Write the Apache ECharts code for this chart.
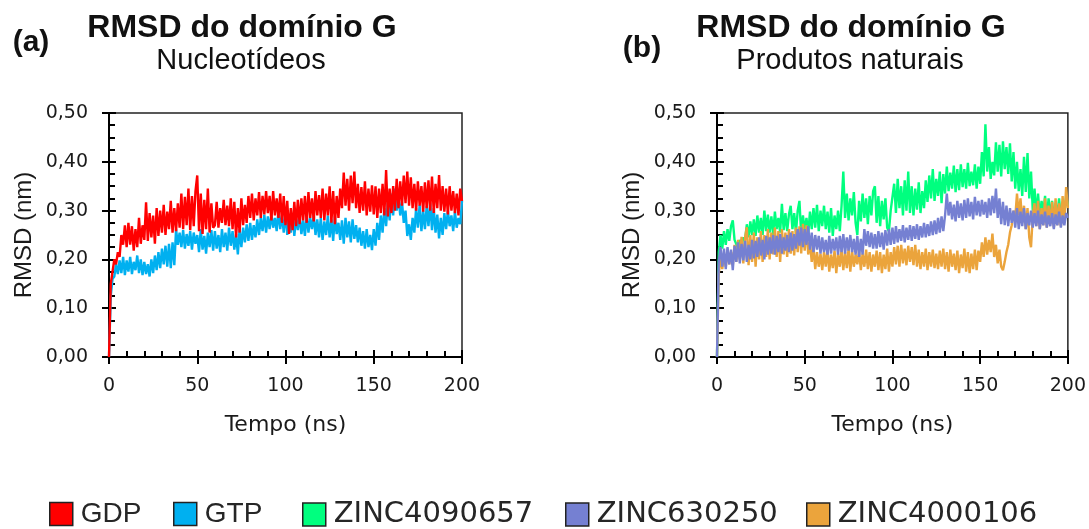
<!DOCTYPE html>
<html>
<head>
<meta charset="utf-8">
<title>RMSD do domínio G</title>
<script src="https://cdn.jsdelivr.net/npm/echarts@6/dist/echarts.min.js"></script>
<style>
  html, body { margin: 0; padding: 0; background: #fff; }
  #chart { width: 1089px; height: 529px; }
</style>
</head>
<body>
<div id="chart"></div>
<script>
// tempo (ns), 1 ns por ponto
const tempo = Array.from({ length: 201 }, (_, i) => i);

// (a) Nucleotídeos
const gdp = [
  0, 0.150, 0.175, 0.200, 0.190, 0.215, 0.205, 0.250, 0.230, 0.270,
  0.225, 0.275, 0.230, 0.268, 0.218, 0.262, 0.225, 0.285, 0.232, 0.270,
  0.240, 0.317, 0.238, 0.295, 0.245, 0.290, 0.232, 0.305, 0.248, 0.300,
  0.255, 0.312, 0.250, 0.298, 0.262, 0.320, 0.255, 0.305, 0.258, 0.315,
  0.265, 0.335, 0.262, 0.328, 0.270, 0.345, 0.260, 0.330, 0.268, 0.340,
  0.372, 0.258, 0.335, 0.252, 0.322, 0.262, 0.345, 0.255, 0.315, 0.265,
  0.270, 0.318, 0.265, 0.305, 0.275, 0.322, 0.270, 0.310, 0.268, 0.325,
  0.262, 0.318, 0.245, 0.305, 0.255, 0.325, 0.270, 0.312, 0.275, 0.330,
  0.285, 0.335, 0.280, 0.325, 0.290, 0.338, 0.285, 0.330, 0.292, 0.340,
  0.295, 0.330, 0.280, 0.340, 0.290, 0.325, 0.285, 0.335, 0.275, 0.330,
  0.270, 0.320, 0.252, 0.305, 0.260, 0.318, 0.268, 0.322, 0.272, 0.325,
  0.280, 0.330, 0.275, 0.338, 0.285, 0.325, 0.278, 0.340, 0.290, 0.332,
  0.285, 0.345, 0.280, 0.335, 0.290, 0.350, 0.275, 0.340, 0.272, 0.330,
  0.285, 0.345, 0.305, 0.378, 0.310, 0.365, 0.300, 0.372, 0.315, 0.380,
  0.305, 0.355, 0.295, 0.348, 0.300, 0.360, 0.290, 0.345, 0.298, 0.352,
  0.292, 0.350, 0.285, 0.345, 0.295, 0.355, 0.290, 0.383, 0.288, 0.345,
  0.295, 0.350, 0.300, 0.365, 0.305, 0.360, 0.310, 0.372, 0.315, 0.380,
  0.310, 0.368, 0.305, 0.355, 0.300, 0.360, 0.310, 0.350, 0.298, 0.358,
  0.305, 0.362, 0.300, 0.370, 0.295, 0.355, 0.305, 0.373, 0.300, 0.350,
  0.298, 0.345, 0.292, 0.350, 0.300, 0.340, 0.295, 0.335, 0.290, 0.345,
  0.320
];
const gtp = [
  0, 0.125, 0.160, 0.165, 0.190, 0.170, 0.198, 0.172, 0.205, 0.168,
  0.198, 0.175, 0.205, 0.170, 0.195, 0.178, 0.208, 0.172, 0.200, 0.168,
  0.195, 0.170, 0.190, 0.165, 0.200, 0.172, 0.208, 0.178, 0.215, 0.182,
  0.222, 0.190, 0.228, 0.185, 0.232, 0.182, 0.235, 0.188, 0.262, 0.230,
  0.255, 0.225, 0.260, 0.222, 0.252, 0.228, 0.258, 0.220, 0.255, 0.232,
  0.250, 0.215, 0.262, 0.220, 0.248, 0.212, 0.255, 0.225, 0.260, 0.218,
  0.258, 0.222, 0.250, 0.215, 0.262, 0.225, 0.255, 0.218, 0.265, 0.228,
  0.258, 0.220, 0.252, 0.210, 0.262, 0.225, 0.265, 0.235, 0.272, 0.238,
  0.275, 0.240, 0.270, 0.245, 0.282, 0.250, 0.285, 0.258, 0.292, 0.255,
  0.288, 0.262, 0.292, 0.265, 0.285, 0.258, 0.300, 0.262, 0.290, 0.255,
  0.295, 0.250, 0.288, 0.255, 0.292, 0.248, 0.285, 0.260, 0.290, 0.252,
  0.280, 0.248, 0.292, 0.255, 0.285, 0.262, 0.290, 0.250, 0.282, 0.245,
  0.285, 0.240, 0.278, 0.250, 0.290, 0.245, 0.282, 0.238, 0.288, 0.252,
  0.275, 0.240, 0.280, 0.232, 0.285, 0.245, 0.278, 0.235, 0.282, 0.242,
  0.270, 0.235, 0.265, 0.228, 0.258, 0.222, 0.262, 0.225, 0.250, 0.219,
  0.262, 0.228, 0.275, 0.240, 0.290, 0.255, 0.305, 0.268, 0.320, 0.280,
  0.335, 0.290, 0.345, 0.300, 0.330, 0.290, 0.318, 0.275, 0.300, 0.248,
  0.272, 0.240, 0.285, 0.255, 0.305, 0.265, 0.312, 0.258, 0.300, 0.262,
  0.310, 0.268, 0.315, 0.260, 0.305, 0.255, 0.292, 0.243, 0.285, 0.250,
  0.295, 0.262, 0.300, 0.268, 0.290, 0.258, 0.298, 0.265, 0.285, 0.272,
  0.320
];

// (b) Produtos naturais
const zinc4090657 = [
  0, 0.215, 0.250, 0.222, 0.258, 0.230, 0.262, 0.238, 0.268, 0.280,
  0.240, 0.238, 0.222, 0.240, 0.228, 0.245, 0.240, 0.272, 0.245, 0.278,
  0.250, 0.282, 0.248, 0.290, 0.255, 0.285, 0.250, 0.300, 0.258, 0.292,
  0.255, 0.288, 0.250, 0.298, 0.262, 0.285, 0.255, 0.314, 0.260, 0.295,
  0.258, 0.292, 0.310, 0.262, 0.295, 0.255, 0.300, 0.320, 0.250, 0.290,
  0.258, 0.285, 0.252, 0.298, 0.262, 0.305, 0.265, 0.312, 0.258, 0.300,
  0.268, 0.310, 0.262, 0.298, 0.255, 0.305, 0.248, 0.290, 0.262, 0.300,
  0.258, 0.310, 0.380, 0.285, 0.335, 0.280, 0.325, 0.290, 0.338, 0.275,
  0.250, 0.320, 0.278, 0.335, 0.285, 0.325, 0.272, 0.330, 0.290, 0.340,
  0.350, 0.275, 0.330, 0.268, 0.320, 0.282, 0.325, 0.265, 0.258, 0.300,
  0.300, 0.355, 0.295, 0.365, 0.305, 0.350, 0.290, 0.362, 0.300, 0.380,
  0.295, 0.350, 0.290, 0.345, 0.302, 0.358, 0.295, 0.340, 0.305, 0.362,
  0.318, 0.372, 0.325, 0.385, 0.320, 0.365, 0.330, 0.380, 0.315, 0.375,
  0.335, 0.390, 0.340, 0.378, 0.345, 0.392, 0.338, 0.385, 0.342, 0.395,
  0.348, 0.385, 0.345, 0.398, 0.350, 0.380, 0.352, 0.395, 0.345, 0.390,
  0.355, 0.420, 0.370, 0.477, 0.380, 0.430, 0.365, 0.400, 0.372, 0.440,
  0.380, 0.435, 0.370, 0.442, 0.385, 0.430, 0.375, 0.438, 0.360, 0.420,
  0.345, 0.400, 0.340, 0.385, 0.330, 0.410, 0.338, 0.418, 0.325, 0.380,
  0.300, 0.345, 0.290, 0.335, 0.285, 0.320, 0.295, 0.330, 0.282, 0.325,
  0.288, 0.320, 0.282, 0.315, 0.290, 0.325, 0.285, 0.318, 0.292, 0.330,
  0.310
];
const zinc630250 = [
  0, 0.195, 0.225, 0.185, 0.222, 0.180, 0.225, 0.190, 0.220, 0.178,
  0.228, 0.195, 0.235, 0.192, 0.232, 0.198, 0.238, 0.195, 0.230, 0.200,
  0.240, 0.202, 0.238, 0.205, 0.245, 0.208, 0.240, 0.200, 0.248, 0.210,
  0.245, 0.212, 0.250, 0.210, 0.248, 0.215, 0.252, 0.212, 0.245, 0.218,
  0.250, 0.215, 0.255, 0.218, 0.252, 0.222, 0.262, 0.228, 0.265, 0.225,
  0.262, 0.230, 0.268, 0.220, 0.255, 0.215, 0.250, 0.220, 0.248, 0.212,
  0.245, 0.215, 0.240, 0.210, 0.248, 0.212, 0.242, 0.218, 0.245, 0.210,
  0.248, 0.215, 0.252, 0.212, 0.245, 0.218, 0.250, 0.215, 0.242, 0.210,
  0.248, 0.205, 0.242, 0.210, 0.262, 0.228, 0.258, 0.225, 0.255, 0.222,
  0.252, 0.222, 0.258, 0.225, 0.255, 0.220, 0.260, 0.228, 0.262, 0.230,
  0.265, 0.232, 0.268, 0.235, 0.262, 0.238, 0.270, 0.235, 0.265, 0.240,
  0.270, 0.238, 0.268, 0.242, 0.272, 0.240, 0.268, 0.245, 0.275, 0.245,
  0.272, 0.248, 0.278, 0.250, 0.280, 0.252, 0.285, 0.255, 0.288, 0.258,
  0.290, 0.335, 0.290, 0.318, 0.282, 0.312, 0.278, 0.320, 0.285, 0.315,
  0.280, 0.322, 0.285, 0.325, 0.288, 0.318, 0.282, 0.328, 0.290, 0.320,
  0.288, 0.322, 0.292, 0.318, 0.285, 0.325, 0.290, 0.330, 0.295, 0.345,
  0.285, 0.325, 0.272, 0.318, 0.270, 0.310, 0.268, 0.305, 0.275, 0.300,
  0.265, 0.305, 0.262, 0.298, 0.268, 0.305, 0.262, 0.295, 0.270, 0.300,
  0.265, 0.295, 0.268, 0.300, 0.262, 0.292, 0.270, 0.298, 0.265, 0.290,
  0.268, 0.295, 0.262, 0.292, 0.270, 0.298, 0.265, 0.290, 0.270, 0.295,
  0.285
];
const zinc4000106 = [
  0, 0.170, 0.205, 0.180, 0.210, 0.185, 0.222, 0.190, 0.215, 0.188,
  0.230, 0.195, 0.240, 0.200, 0.246, 0.192, 0.245, 0.266, 0.188, 0.250,
  0.195, 0.255, 0.185, 0.245, 0.200, 0.258, 0.195, 0.250, 0.205, 0.262,
  0.200, 0.255, 0.210, 0.265, 0.205, 0.258, 0.195, 0.262, 0.210, 0.255,
  0.205, 0.262, 0.212, 0.258, 0.208, 0.265, 0.215, 0.268, 0.212, 0.273,
  0.218, 0.270, 0.210, 0.235, 0.195, 0.225, 0.180, 0.215, 0.185, 0.212,
  0.178, 0.215, 0.185, 0.220, 0.175, 0.210, 0.182, 0.218, 0.172, 0.212,
  0.185, 0.220, 0.178, 0.215, 0.182, 0.222, 0.175, 0.218, 0.185, 0.210,
  0.190, 0.218, 0.178, 0.212, 0.185, 0.220, 0.180, 0.215, 0.175, 0.210,
  0.185, 0.218, 0.178, 0.215, 0.172, 0.210, 0.180, 0.222, 0.175, 0.215,
  0.185, 0.225, 0.190, 0.228, 0.185, 0.230, 0.192, 0.222, 0.188, 0.228,
  0.195, 0.225, 0.188, 0.230, 0.185, 0.220, 0.180, 0.215, 0.185, 0.222,
  0.178, 0.215, 0.185, 0.220, 0.182, 0.212, 0.180, 0.218, 0.185, 0.222,
  0.180, 0.215, 0.175, 0.220, 0.185, 0.212, 0.178, 0.218, 0.172, 0.210,
  0.182, 0.222, 0.175, 0.215, 0.172, 0.212, 0.180, 0.220, 0.178, 0.218,
  0.195, 0.235, 0.205, 0.245, 0.210, 0.240, 0.215, 0.253, 0.205, 0.230,
  0.192, 0.220, 0.185, 0.178, 0.195, 0.215, 0.230, 0.255, 0.270, 0.300,
  0.285, 0.335, 0.290, 0.325, 0.275, 0.310, 0.262, 0.305, 0.245, 0.225,
  0.290, 0.315, 0.268, 0.320, 0.262, 0.305, 0.270, 0.325, 0.265, 0.310,
  0.272, 0.318, 0.265, 0.325, 0.270, 0.315, 0.268, 0.330, 0.275, 0.348,
  0.305
];

const yTicks = [0, 0.1, 0.2, 0.3, 0.4, 0.5];
const xTicks = [0, 50, 100, 150, 200];

const colors = {
  GDP: '#ff0000',
  GTP: '#00b0f0',
  ZINC4090657: '#00ff7f',
  ZINC630250: '#7580d2',
  ZINC4000106: '#eba43c'
};

const pts = arr => tempo.map((t, i) => [t, arr[i]]);
const fmtY = v => v.toFixed(2).replace('.', ',');

const tickFont = { fontFamily: 'DejaVu Sans', fontSize: 19, color: '#1a1a1a' };

function mainX(gridIndex) {
  return {
    type: 'value', gridIndex, min: xTicks[0], max: xTicks[xTicks.length - 1], interval: 50,
    position: 'bottom',
    name: 'Tempo (ns)', nameLocation: 'middle', nameGap: 57,
    nameTextStyle: { fontFamily: 'DejaVu Sans', fontSize: 22, color: '#1a1a1a' },
    axisLine: { show: true, onZero: false, lineStyle: { color: '#000', width: 2 } },
    axisTick: { show: true, inside: true, length: 7, lineStyle: { color: '#000', width: 2 } },
    minorTick: { show: true, splitNumber: 5, length: 6, lineStyle: { color: '#000', width: 2 } },
    axisLabel: { margin: 20, ...tickFont },
    splitLine: { show: false }
  };
}
function outerX(gridIndex) {
  return {
    type: 'value', gridIndex, min: 0, max: 200, interval: 50, position: 'bottom',
    axisLine: { show: false },
    axisTick: { show: true, inside: false, length: 7, lineStyle: { color: '#000', width: 2 } },
    axisLabel: { show: false }, splitLine: { show: false }
  };
}
function mainY(gridIndex) {
  return {
    type: 'value', gridIndex, min: yTicks[0], max: yTicks[yTicks.length - 1], interval: 0.1,
    position: 'left',
    name: 'RMSD (nm)', nameLocation: 'middle', nameGap: 73, nameRotate: 90,
    nameTextStyle: { fontFamily: 'Liberation Sans', fontSize: 24, color: '#1a1a1a' },
    axisLine: { show: true, onZero: false, lineStyle: { color: '#000', width: 2 } },
    axisTick: { show: true, inside: true, length: 7, lineStyle: { color: '#000', width: 2 } },
    minorTick: { show: true, splitNumber: 4, length: 6, lineStyle: { color: '#000', width: 2 } },
    axisLabel: { margin: 21, formatter: fmtY, ...tickFont },
    splitLine: { show: false }
  };
}
function outerY(gridIndex) {
  return {
    type: 'value', gridIndex, min: 0, max: 0.5, interval: 0.1, position: 'left',
    axisLine: { show: false },
    axisTick: { show: true, inside: false, length: 7, lineStyle: { color: '#000', width: 2 } },
    axisLabel: { show: false }, splitLine: { show: false }
  };
}

function line(name, data, xi, yi) {
  return {
    name, type: 'line', xAxisIndex: xi, yAxisIndex: yi,
    data: pts(data), showSymbol: false, symbol: 'none', sampling: false,
    lineStyle: { width: 2.4, color: colors[name] },
    itemStyle: { color: colors[name] },
    emphasis: { disabled: true }
  };
}

function legendItem(name, left, font, size) {
  return {
    left, top: 500, orient: 'horizontal', padding: 0,
    data: [{ name, icon: 'rect' }],
    itemWidth: 23, itemHeight: 23,
    itemStyle: { borderColor: '#222', borderWidth: 1.5 },
    textStyle: { fontFamily: font, fontSize: size, color: '#262626', padding: [0, 0, 0, 3] },
    selectedMode: false
  };
}

const chart = echarts.init(document.getElementById('chart'), null, { renderer: 'canvas' });

chart.setOption({
  animation: false,
  backgroundColor: '#fff',
  grid: [
    { left: 109, top: 113, width: 353, height: 244, show: true, borderColor: '#222', borderWidth: 1.5, backgroundColor: 'transparent' },
    { left: 717, top: 113, width: 352, height: 244, show: true, borderColor: '#222', borderWidth: 1.5, backgroundColor: 'transparent' }
  ],
  xAxis: [mainX(0), mainX(1), outerX(0), outerX(1)],
  yAxis: [mainY(0), mainY(1), outerY(0), outerY(1)],
  legend: [
    legendItem('GDP', 49, 'Liberation Sans', 28),
    legendItem('GTP', 173, 'Liberation Sans', 28),
    legendItem('ZINC4090657', 302, 'DejaVu Sans', 29),
    legendItem('ZINC630250', 565, 'DejaVu Sans', 29),
    legendItem('ZINC4000106', 806, 'DejaVu Sans', 29)
  ],
  graphic: [
    { type: 'text', style: { text: 'RMSD do domínio G', x: 242, y: 28.5, align: 'center', verticalAlign: 'middle', font: 'bold 32px "Liberation Sans"', fill: '#111' } },
    { type: 'text', style: { text: 'Nucleotídeos', x: 241, y: 61, align: 'center', verticalAlign: 'middle', font: '29px "Liberation Sans"', fill: '#111' } },
    { type: 'text', style: { text: '(a)', x: 31, y: 43, align: 'center', verticalAlign: 'middle', font: 'bold 30px "Liberation Sans"', fill: '#111' } },
    { type: 'text', style: { text: 'RMSD do domínio G', x: 851, y: 28.5, align: 'center', verticalAlign: 'middle', font: 'bold 32px "Liberation Sans"', fill: '#111' } },
    { type: 'text', style: { text: 'Produtos naturais', x: 850, y: 61, align: 'center', verticalAlign: 'middle', font: '29px "Liberation Sans"', fill: '#111' } },
    { type: 'text', style: { text: '(b)', x: 642, y: 48.5, align: 'center', verticalAlign: 'middle', font: 'bold 30px "Liberation Sans"', fill: '#111' } }
  ],
  series: [
    line('GTP', gtp, 0, 0),
    line('GDP', gdp, 0, 0),
    line('ZINC4090657', zinc4090657, 1, 1),
    line('ZINC4000106', zinc4000106, 1, 1),
    line('ZINC630250', zinc630250, 1, 1)
  ]
});
</script>
</body>
</html>
